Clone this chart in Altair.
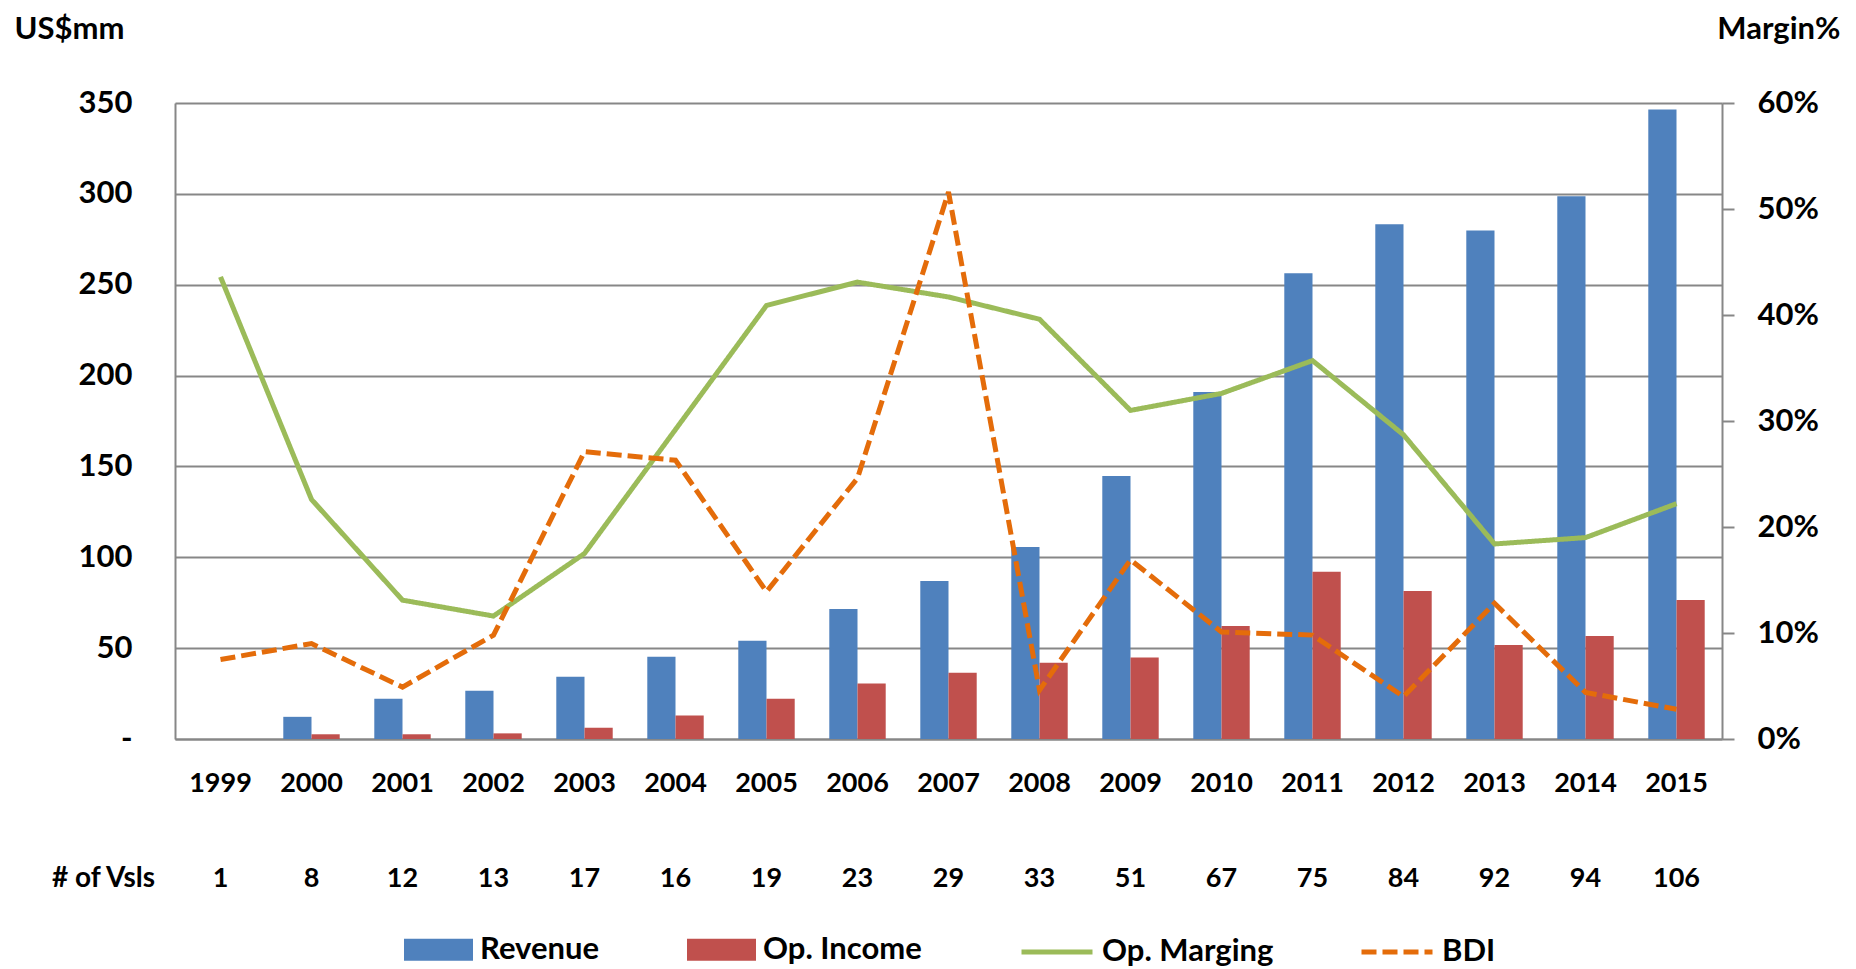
import altair as alt
import pandas as pd

# ---------------- data ----------------
years = ["1999", "2000", "2001", "2002", "2003", "2004", "2005", "2006", "2007",
         "2008", "2009", "2010", "2011", "2012", "2013", "2014", "2015"]
revenue = [0, 12.2, 22.2, 26.5, 34.3, 45.3, 54.1, 71.5, 87.0,
           105.6, 144.7, 191.0, 256.3, 283.3, 279.9, 298.7, 346.4]
op_income = [0, 2.6, 2.6, 3.1, 6.2, 12.9, 22.2, 30.5, 36.5,
             42.0, 44.8, 62.2, 92.0, 81.5, 51.7, 56.7, 76.5]
op_margin_pct = [43.6, 22.6, 13.1, 11.6, 17.5, 29.2, 40.9, 43.1, 41.7,
                 39.6, 31.0, 32.6, 35.7, 28.7, 18.4, 19.0, 22.2]
bdi_on_margin_axis_pct = [7.5, 9.0, 4.9, 9.8, 27.1, 26.3, 13.9, 24.6, 51.6,
                          4.6, 16.9, 10.1, 9.8, 4.0, 12.8, 4.4, 2.8]
vessels = [1, 8, 12, 13, 17, 16, 19, 23, 29, 33, 51, 67, 75, 84, 92, 94, 106]

bar_series = ["Revenue", "Op. Income"]
line_series = ["Op. Marging", "BDI"]

bar_df = pd.DataFrame(
    [{"year": y, "series": "Revenue", "value": v} for y, v in zip(years, revenue)]
    + [{"year": y, "series": "Op. Income", "value": v} for y, v in zip(years, op_income)]
)
line_df = pd.DataFrame(
    [{"year": y, "series": "Op. Marging", "value": v / 100} for y, v in zip(years, op_margin_pct)]
    + [{"year": y, "series": "BDI", "value": v / 100} for y, v in zip(years, bdi_on_margin_axis_pct)]
)
vsl_df = pd.DataFrame({"year": years, "vessels": [str(v) for v in vessels]})
vsl_label_df = pd.DataFrame({"t": ["# of Vsls"]})

# ---------------- styling ----------------
FONT = "Lato"
GRAY = "#878787"
BLUE = "#4F81BD"
RED = "#C0504D"
GREEN = "#9BBB59"
ORANGE = "#E46C0A"
W, H = 1547, 636

x_enc = alt.X(
    "year:N", sort=years,
    scale=alt.Scale(paddingInner=0.38, paddingOuter=0.19),
    axis=alt.Axis(title=None, labelAngle=0, labelFont=FONT, labelFontSize=27,
                  labelFontWeight="bold", labelColor="black", labelPadding=31,
                  ticks=False, tickSize=0, domainColor=GRAY, domainWidth=2),
)

bars = alt.Chart(bar_df).mark_bar().encode(
    x=x_enc,
    xOffset=alt.XOffset("series:N", sort=bar_series,
                        scale=alt.Scale(domain=bar_series, paddingInner=0, paddingOuter=0)),
    y=alt.Y("value:Q",
            scale=alt.Scale(domain=[0, 350], nice=False),
            axis=alt.Axis(values=[0, 50, 100, 150, 200, 250, 300, 350], format="d",
                          labelExpr="datum.value == 0 ? '-\u00a0\u00a0\u00a0' : datum.label",
                          labelFont=FONT, labelFontSize=31, labelFontWeight="bold",
                          labelColor="black", labelPadding=43, ticks=False, tickSize=0,
                          grid=True, gridColor=GRAY, gridWidth=2,
                          domainColor=GRAY, domainWidth=2,
                          title="US$mm", titleAngle=0, titleX=-161, titleY=-65,
                          titleAlign="left", titleBaseline="alphabetic",
                          titleFont=FONT, titleFontSize=31, titleFontWeight="bold",
                          titleColor="black")),
    color=alt.Color("series:N",
                    scale=alt.Scale(domain=bar_series, range=[BLUE, RED]),
                    legend=alt.Legend(title=None, orient="none", legendX=229, legendY=812,
                                      direction="horizontal",
                                      symbolType="M-1,-0.32H1V0.32H-1Z", symbolSize=4761,
                                      symbolStrokeWidth=0, labelLimit=0,
                                      labelFont=FONT, labelFontSize=31, labelFontWeight="bold",
                                      labelColor="black", labelOffset=7, columnPadding=88)),
)

line_legend = alt.Legend(title=None, orient="none", legendX=844, legendY=811,
                         direction="horizontal", symbolType="stroke", symbolSize=5041,
                         symbolStrokeWidth=5, labelLimit=0,
                         labelFont=FONT, labelFontSize=31, labelFontWeight="bold",
                         labelColor="black", labelOffset=7, columnPadding=77)

lines = alt.Chart(line_df).mark_line(strokeWidth=5).encode(
    x=x_enc,
    y=alt.Y("value:Q",
            scale=alt.Scale(domain=[0, 0.6], nice=False),
            axis=alt.Axis(orient="right", values=[0, 0.1, 0.2, 0.3, 0.4, 0.5, 0.6],
                          format=".0%", labelFont=FONT, labelFontSize=31,
                          labelFontWeight="bold", labelColor="black",
                          ticks=True, tickSize=12, tickColor=GRAY, tickWidth=2,
                          labelPadding=23, grid=False,
                          domainColor=GRAY, domainWidth=2,
                          title="Margin%", titleAngle=0, titleX=118, titleY=-65,
                          titleAlign="right", titleBaseline="alphabetic",
                          titleFont=FONT, titleFontSize=31, titleFontWeight="bold",
                          titleColor="black")),
    stroke=alt.Stroke("series:N", sort=line_series,
                      scale=alt.Scale(domain=line_series, range=[GREEN, ORANGE]),
                      legend=line_legend),
    strokeDash=alt.StrokeDash("series:N", sort=line_series,
                              scale=alt.Scale(domain=line_series, range=[[1, 0], [15, 6]]),
                              legend=line_legend),
    order=alt.Order("year:N"),
)

vsl_text = alt.Chart(vsl_df).mark_text(
    font=FONT, fontSize=27, fontWeight="bold", color="black", baseline="alphabetic"
).encode(
    x=x_enc,
    y=alt.value(784),
    text="vessels:N",
)

vsl_label = alt.Chart(vsl_label_df).mark_text(
    font=FONT, fontSize=28, fontWeight="bold", color="black",
    baseline="alphabetic", align="right"
).encode(
    x=alt.value(-20),
    y=alt.value(784),
    text="t:N",
)

chart = alt.layer(bars, lines, vsl_text, vsl_label).resolve_scale(
    y="independent"
).properties(
    width=W, height=H,
    padding={"left": 6, "top": 5, "right": 0, "bottom": 0},
).configure_view(stroke=None).configure(font=FONT)

chart.save("out.html", embed_options={"renderer": "svg", "actions": False})
